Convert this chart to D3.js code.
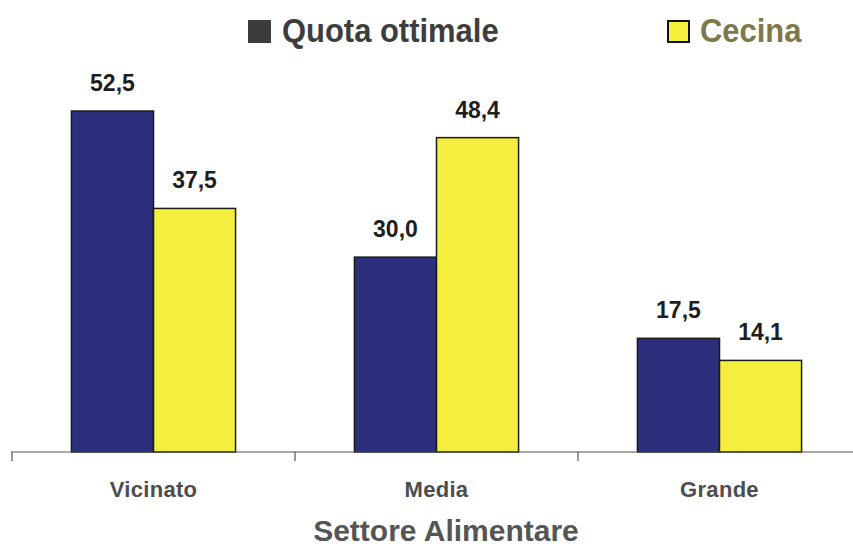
<!DOCTYPE html>
<html>
<head>
<meta charset="utf-8">
<script src="https://cdn.jsdelivr.net/npm/d3@7"></script>
<style>
  html, body { margin: 0; padding: 0; background: #fff; }
  svg { display: block; }
</style>
</head>
<body>
<svg id="chart" width="853" height="547"></svg>
<script>
// Grocery retail sector shares: optimal quota vs. Cecina
const categories = ["Vicinato", "Media", "Grande"];
const seriesNames = ["Quota ottimale", "Cecina"];
const quotaOttimale = [52.5, 30.0, 17.5];
const cecina = [37.5, 48.4, 14.1];
const seriesColors = ["#2b2f7c", "#f3ef3c"];
const axisTitle = "Settore Alimentare";

const font = "'Liberation Sans', Arial, sans-serif";

const svg = d3.select("#chart");
const baseY = 452;

const x0 = d3.scaleBand()
  .domain(categories)
  .range([12, 861])
  .paddingInner(0.42)
  .paddingOuter(0.21);

const x1 = d3.scaleBand()
  .domain(seriesNames)
  .range([0, x0.bandwidth()])
  .padding(0);

const y = d3.scaleLinear()
  .domain([0, 60])
  .range([baseY, baseY - 60 * 6.495]);

const values = [quotaOttimale, cecina];
const rows = categories.flatMap((c, i) =>
  seriesNames.map((s, j) => ({ cat: c, series: s, value: values[j][i], color: seriesColors[j] })));

// Bars
svg.append("g").selectAll("rect")
  .data(rows)
  .join("rect")
  .attr("x", d => x0(d.cat) + x1(d.series))
  .attr("y", d => y(d.value))
  .attr("width", x1.bandwidth())
  .attr("height", d => y(0) - y(d.value))
  .attr("fill", d => d.color)
  .attr("stroke", "#1a1a1a")
  .attr("stroke-width", 1.5);

// Value labels (Italian decimal comma)
const fmt = v => d3.format(".1f")(v).replace(".", ",");
svg.append("g").selectAll("text")
  .data(rows)
  .join("text")
  .attr("x", d => x0(d.cat) + x1(d.series) + x1.bandwidth() / 2)
  .attr("y", d => y(d.value) - 20)
  .attr("text-anchor", "middle")
  .attr("font-family", font)
  .attr("font-weight", "bold")
  .attr("font-size", 23)
  .attr("fill", "#1e1e1e")
  .text(d => fmt(d.value));

// Category axis: baseline with ticks at band boundaries
const step = x0.step();
const axisG = svg.append("g").attr("stroke", "#555").attr("stroke-width", 1.2);
axisG.append("line")
  .attr("x1", 11).attr("x2", 853)
  .attr("y1", baseY).attr("y2", baseY);
axisG.selectAll("line.tick")
  .data(categories)
  .join("line")
  .attr("class", "tick")
  .attr("x1", d => x0(d) - step * x0.paddingInner() / 2)
  .attr("x2", d => x0(d) - step * x0.paddingInner() / 2)
  .attr("y1", baseY).attr("y2", baseY + 9);

svg.append("g").selectAll("text")
  .data(categories)
  .join("text")
  .attr("x", d => x0(d) + x0.bandwidth() / 2)
  .attr("y", 497)
  .attr("text-anchor", "middle")
  .attr("font-family", font)
  .attr("font-weight", "bold")
  .attr("font-size", 22)
  .attr("letter-spacing", 0.3)
  .attr("fill", "#4d4d4d")
  .text(d => d);

svg.append("text")
  .attr("x", 446)
  .attr("y", 541)
  .attr("text-anchor", "middle")
  .attr("font-family", font)
  .attr("font-weight", "bold")
  .attr("font-size", 30)
  .attr("fill", "#555")
  .text(axisTitle);

// Legend
const legend = [
  { name: seriesNames[0], sx: 249, tx: 282, sq: "#3c3c3c", sqStroke: "#3c3c3c", text: "#3d3d3d" },
  { name: seriesNames[1], sx: 668, tx: 700, sq: seriesColors[1], sqStroke: "#111", text: "#7f784a" }
];
const lg = svg.append("g");
lg.selectAll("rect")
  .data(legend)
  .join("rect")
  .attr("x", d => d.sx)
  .attr("y", 21)
  .attr("width", 21)
  .attr("height", 21)
  .attr("fill", d => d.sq)
  .attr("stroke", d => d.sqStroke)
  .attr("stroke-width", 2);
lg.selectAll("text")
  .data(legend)
  .join("text")
  .attr("x", d => d.tx)
  .attr("y", 42)
  .attr("font-family", font)
  .attr("font-weight", "bold")
  .attr("font-size", 34)
  .attr("fill", d => d.text)
  .text(d => d.name)
  .each(function () {
    // condensed face: tighten glyphs horizontally
    const w = this.getComputedTextLength();
    d3.select(this)
      .attr("textLength", w * 0.91)
      .attr("lengthAdjust", "spacingAndGlyphs");
  });
</script>
</body>
</html>
